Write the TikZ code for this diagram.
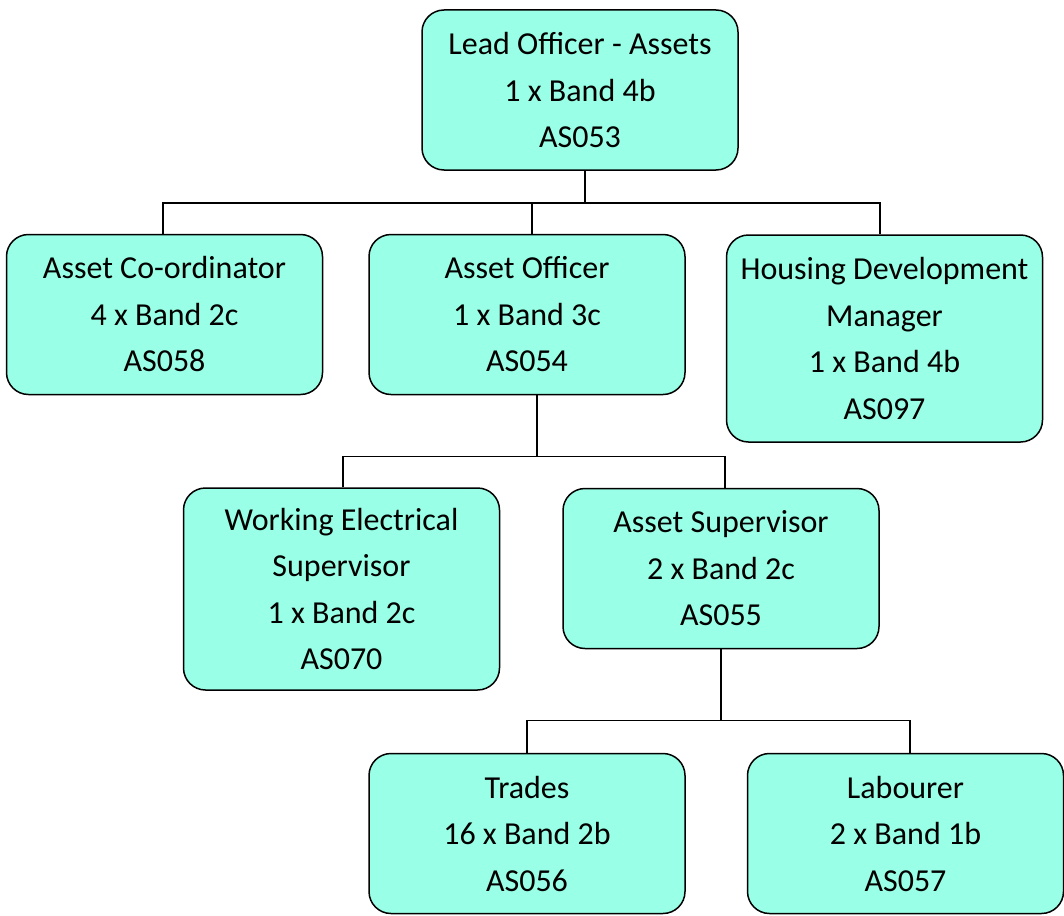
\documentclass[tikz,border=0pt]{standalone}
\usepackage{fontspec}
\setmainfont{Carlito}
\definecolor{boxfill}{RGB}{153,255,230}
\begin{document}
\begin{tikzpicture}[x=1pt,y=-1pt,
  post/.style={draw=black, line width=1.5pt, fill=boxfill, rounded corners=22pt,
    minimum width=316pt, align=center, inner sep=0pt,
    font=\fontsize{32}{46.5}\selectfont},
  post3/.style={post, minimum height=160pt},
  post4/.style={post, minimum height=207pt},
  link/.style={draw=black, line width=1.5pt}]
\useasboundingbox (0,0) rectangle (1064,915);

% posts
\node[post3] (lead)    at (580,90)      {Lead Officer - Assets\\1 x Band 4b\\AS053};
\node[post3] (coord)   at (164.5,314.5) {Asset Co-ordinator\\4 x Band 2c\\AS058};
\node[post3] (officer) at (527,314.5)   {Asset Officer\\1 x Band 3c\\AS054};
\node[post4] (hdm)     at (884.5,338.5) {Housing Development\\Manager\\1 x Band 4b\\AS097};
\node[post4, minimum height=202pt] (wes) at (341.5,589) {Working Electrical\\Supervisor\\1 x Band 2c\\AS070};
\node[post3] (super)   at (721,568.5)   {Asset Supervisor\\2 x Band 2c\\AS055};
\node[post3] (trades)  at (527,833.5)   {Trades\\16 x Band 2b\\AS056};
\node[post3] (lab)     at (905.5,833.5) {Labourer\\2 x Band 1b\\AS057};

% reporting lines: lead officer
\draw[link] ([xshift=5pt]lead.south) -- ++(0,33);
\draw[link] ([xshift=-1.5pt]coord.north) -- ++(0,-31) -| ([xshift=-4.5pt]hdm.north);
\draw[link] ([xshift=5pt]officer.north) -- ++(0,-31);

% reporting lines: asset officer
\draw[link] ([xshift=10pt]officer.south) -- ++(0,62);
\draw[link] ([xshift=1.5pt]wes.north) -- ++(0,-31) -| ([xshift=4pt]super.north);

% reporting lines: asset supervisor
\draw[link] (super.south) -- ++(0,72);
\draw[link] (trades.north) -- ++(0,-32.5) -| ([xshift=4.5pt]lab.north);
\end{tikzpicture}
\end{document}
